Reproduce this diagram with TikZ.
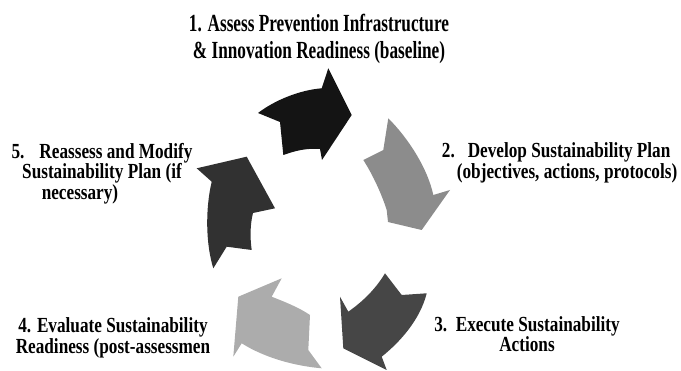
\documentclass[tikz,border=0pt]{standalone}
\usepackage{fontspec}
\newfontfamily\labelfont{Liberation Serif}[FakeStretch=0.8]
\newfontfamily\titlefont{Liberation Serif}[FakeStretch=0.7]

\definecolor{arrowone}{HTML}{141414}
\definecolor{arrowtwo}{HTML}{8C8C8C}
\definecolor{arrowthree}{HTML}{464646}
\definecolor{arrowfour}{HTML}{ACACAC}
\definecolor{arrowfive}{HTML}{313131}

\begin{document}
\begin{tikzpicture}[x=1pt, y=-1pt,
    steplabel/.style={font={\labelfont\bfseries\fontsize{21.5}{20.5}\selectfont},
      align=center, anchor=base, inner sep=0pt},
    toplabel/.style={font={\titlefont\bfseries\fontsize{24.6}{26.7}\selectfont},
      align=center, anchor=base, inner sep=0pt}]
    \useasboundingbox (0,0) rectangle (681,371);

    % Cycle of arrows
    % 1: top
    \fill[arrowone] (258,113) .. controls (275,100) and (300,90) .. (321.7,88.3)
        -- (328.3,68.3) -- (351.7,115) -- (322,160) -- (320,149)
        .. controls (305,148) and (295,151) .. (283.3,155) -- (280,122) -- cycle;
    % 2: right
    \fill[arrowtwo] (388.3,118.3) .. controls (410,140) and (428,170) .. (433.3,195)
        -- (450,190) -- (421.7,230) -- (388,222) -- (386.7,210)
        .. controls (382,195) and (373,175) .. (363.3,160) -- (383.3,150) -- cycle;
    % 3: bottom right
    \fill[arrowthree] (426.7,293.3) .. controls (420,320) and (400,342) .. (381.7,356.7)
        -- (386.7,370) -- (343.3,348.3) -- (340,296.7) -- (348.3,311.7)
        .. controls (362,302) and (375,290) .. (385,273.3) -- (401.7,295) -- cycle;
    % 4: bottom left
    \fill[arrowfour] (321.7,368.3) .. controls (295,366) and (265,358) .. (241.7,343.3)
        -- (233.3,356.7) -- (238.3,296.7) -- (281.7,278.3) -- (271.7,296.7)
        .. controls (285,302) and (298,307) .. (310,315) -- (308.3,350) -- cycle;
    % 5: left
    \fill[arrowfive] (213.3,268.3) .. controls (206,245) and (205,210) .. (211.7,181.7)
        -- (196.7,168.3) -- (246.7,156.7) -- (275,208.3) -- (253,213)
        .. controls (250,225) and (250,238) .. (251.7,250) -- (226.7,246.7) -- cycle;

    % Step labels (anchored at the baseline of the last line)
    \node[toplabel] (assess) at (319,58.3)
        {1. Assess Prevention Infrastructure\\ \& Innovation Readiness (baseline)};
    \node[steplabel, align=left, anchor=base west] (develop) at (441.7,178.5)
        {2.\hspace{13pt}Develop Sustainability Plan\\\hspace*{15pt}(objectives, actions, protocols)};
    \node[steplabel] (execute) at (527,351.7)
        {3.\ \ Execute Sustainability\\Actions};
    \node[steplabel] (evaluate) at (113,353.3)
        {4. Evaluate Sustainability\\Readiness (post-assessmen};
    \node[steplabel] (reassess) at (102,199.3)
        {5.\hspace{15pt}Reassess and Modify\\Sustainability Plan (if\\necessary)\hspace*{44pt}};
\end{tikzpicture}
\end{document}
